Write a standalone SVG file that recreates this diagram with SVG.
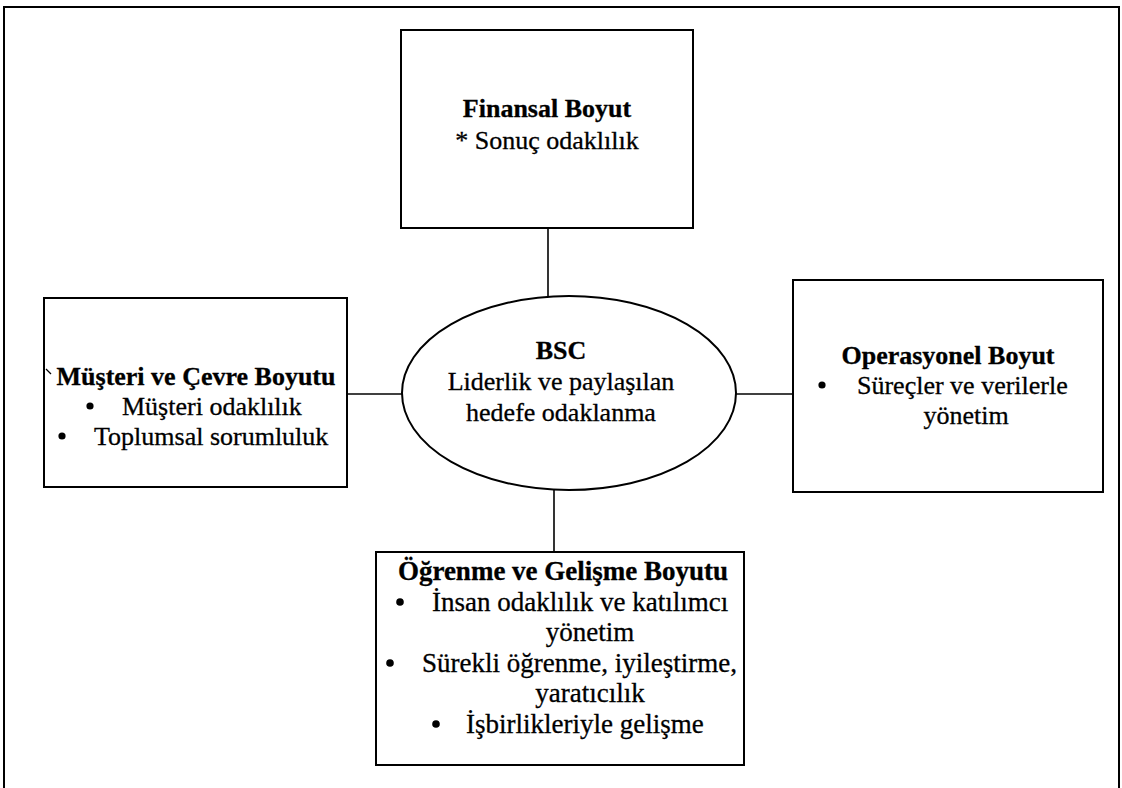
<svg xmlns="http://www.w3.org/2000/svg" width="1122" height="788" viewBox="0 0 1122 788">
<style>
.box{fill:#fff;stroke:#000;stroke-width:2}
.conn{stroke:#000;stroke-width:1.6;fill:none}
text{font-family:"Liberation Serif","Times New Roman",serif;fill:#000;stroke:#000;stroke-width:0.3}
.t{font-size:26px}
.b{font-weight:bold}
.m{text-anchor:middle}
.s{font-size:27px}
</style>
<rect width="1122" height="788" fill="#fff"/>
<path id="frame" d="M4,788 V7 H1119 V788" fill="none" stroke="#000" stroke-width="2"/>
<g id="connectors">
<line class="conn" x1="548" y1="228" x2="548" y2="297"/>
<line class="conn" x1="347" y1="394" x2="403" y2="394"/>
<line class="conn" x1="736" y1="394" x2="793" y2="394"/>
<line class="conn" x1="554" y1="489" x2="554" y2="552"/>
</g>
<g id="finansal">
<rect class="box" x="401" y="30" width="292" height="198"/>
<text class="t b m" x="547" y="117">Finansal Boyut</text>
<text class="t m" x="547" y="149">* Sonuç odaklılık</text>
</g>
<g id="bsc">
<ellipse cx="569" cy="393" rx="167" ry="97" fill="#fff" stroke="#000" stroke-width="2"/>
<text class="t b m" x="561" y="359">BSC</text>
<text class="t m" x="561" y="390">Liderlik ve paylaşılan</text>
<text class="t m" x="561" y="421">hedefe odaklanma</text>
</g>
<g id="musteri">
<rect class="box" x="44" y="298" width="303" height="189"/>
<path d="M46,369 L51,374" stroke="#000" stroke-width="1.2"/>
<text class="t b m" x="196" y="385">Müşteri ve Çevre Boyutu</text>
<circle cx="90" cy="406" r="3.6"/>
<text class="t" x="122" y="415">Müşteri odaklılık</text>
<circle cx="62" cy="436" r="3.6"/>
<text class="t" x="94" y="445">Toplumsal sorumluluk</text>
</g>
<g id="operasyonel">
<rect class="box" x="793" y="280" width="310" height="212"/>
<text class="t b m" x="948" y="364">Operasyonel Boyut</text>
<circle cx="822" cy="385" r="3.6"/>
<text class="t" x="857" y="394">Süreçler ve verilerle</text>
<text class="t m" x="966" y="424">yönetim</text>
</g>
<g id="ogrenme">
<rect class="box" x="376" y="552" width="368" height="213"/>
<text class="s b m" x="563" y="580">Öğrenme ve Gelişme Boyutu</text>
<circle cx="400" cy="602" r="3.8"/>
<text class="s" x="432" y="611">İnsan odaklılık ve katılımcı</text>
<text class="s m" x="590" y="641">yönetim</text>
<circle cx="390" cy="663" r="3.8"/>
<text class="s" x="422" y="672">Sürekli öğrenme, iyileştirme,</text>
<text class="s m" x="590" y="702">yaratıcılık</text>
<circle cx="436" cy="724" r="3.8"/>
<text class="s" x="466" y="733">İşbirlikleriyle gelişme</text>
</g>
</svg>
